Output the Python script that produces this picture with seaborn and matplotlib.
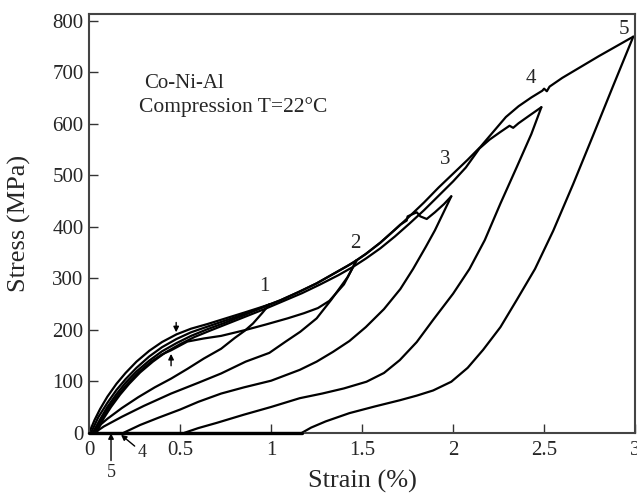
import pandas as pd
import matplotlib
matplotlib.use("Agg")
import matplotlib.pyplot as plt
import seaborn as sns

# loading / unloading branches (strain %, stress MPa)
load1_strain = [0, 0.03, 0.06, 0.10, 0.15, 0.20, 0.26, 0.33, 0.40, 0.48, 0.56, 0.65, 0.75, 0.85, 0.93, 0.99]
load1_stress = [0, 25, 46, 70, 95, 116, 138, 159, 176, 191, 202, 211, 222, 233, 242, 249]

load2_strain = [0.02, 0.06, 0.10, 0.15, 0.20, 0.26, 0.33, 0.40, 0.48, 0.56, 0.65, 0.75, 0.85, 0.93, 0.99,
                1.05, 1.15, 1.25, 1.35, 1.42, 1.47]
load2_stress = [0, 26, 50, 75, 97, 119, 140, 158, 174, 188, 201, 214, 228, 240, 249,
                257, 273, 290, 310, 324, 335]

load3_strain = [0.03, 0.07, 0.11, 0.16, 0.21, 0.27, 0.34, 0.40, 0.45, 0.54, 0.63, 0.725, 0.854, 0.97,
                1.09, 1.18, 1.257, 1.32, 1.40, 1.47, 1.52, 1.60, 1.66, 1.71, 1.745, 1.75, 1.80, 1.82,
                1.855, 1.90, 1.95, 1.99]
load3_stress = [0, 28, 50, 74, 95, 117, 138, 152, 160, 177, 183, 188, 199, 210,
                222, 232, 242, 256, 288, 335, 347, 369, 388, 404, 412, 420, 428, 420,
                415, 428, 444, 459]

load4_strain = [0.04, 0.08, 0.12, 0.17, 0.22, 0.28, 0.35, 0.42, 0.50, 0.58, 0.67, 0.77, 0.87, 0.97,
                1.07, 1.17, 1.27, 1.37, 1.45, 1.52, 1.60, 1.68, 1.76, 1.84, 1.92, 2.00, 2.07,
                2.145, 2.20, 2.26, 2.31, 2.33, 2.36, 2.42, 2.485]
load4_stress = [0, 28, 50, 74, 95, 117, 138, 156, 172, 186, 199, 213, 227, 241,
                256, 271, 288, 306, 322, 338, 358, 381, 406, 432, 460, 488, 515,
                552, 569, 584, 596, 592, 601, 616, 632]

load5_strain = [0.01, 0.05, 0.10, 0.15, 0.20, 0.26, 0.33, 0.40, 0.48, 0.56, 0.65, 0.75, 0.85, 0.95,
                1.05, 1.15, 1.25, 1.35, 1.45, 1.52, 1.60, 1.68, 1.76, 1.84, 1.92, 2.00, 2.08,
                2.15, 2.22, 2.29, 2.36, 2.43, 2.49, 2.50, 2.515, 2.53, 2.60, 2.70, 2.80, 2.90, 2.99]
load5_stress = [0, 30, 58, 83, 104, 126, 148, 166, 182, 195, 206, 218, 230, 243,
                257, 273, 290, 310, 330, 347, 369, 394, 420, 447, 476, 503, 530,
                555, 584, 613, 634, 651, 664, 668, 663, 672, 689, 710, 731, 751, 769]

unload1_strain = [0.99, 0.95, 0.90, 0.855, 0.80, 0.725, 0.63, 0.54, 0.45, 0.36, 0.27, 0.18, 0.10, 0.05, 0.02]
unload1_stress = [249, 232, 212, 198, 184, 163, 144, 124, 105, 88, 69, 48, 27, 12, 0]

unload2_strain = [1.47, 1.42, 1.33, 1.25, 1.16, 1.08, 0.99, 0.86, 0.725, 0.60, 0.45, 0.30, 0.18, 0.08, 0.03]
unload2_stress = [335, 302, 258, 222, 196, 177, 155, 138, 115, 97, 76, 52, 31, 12, 0]

unload3_strain = [1.99, 1.945, 1.90, 1.85, 1.78, 1.71, 1.62, 1.52, 1.43, 1.34, 1.25, 1.157, 1.0,
                  0.85, 0.725, 0.60, 0.50, 0.38, 0.28, 0.19]
unload3_stress = [459, 426, 393, 361, 318, 279, 240, 205, 178, 157, 138, 122, 101,
                  88, 76, 60, 45, 29, 15, 0]

unload4_strain = [2.485, 2.43, 2.35, 2.26, 2.174, 2.09, 2.0, 1.89, 1.80, 1.707, 1.62, 1.524, 1.40,
                  1.28, 1.157, 1.0, 0.85, 0.70, 0.60, 0.525]
unload4_stress = [632, 580, 516, 445, 374, 318, 270, 219, 176, 141, 116, 99, 86,
                  76, 67, 50, 35, 19, 9, 0]

unload5_strain = [2.99, 2.88, 2.77, 2.66, 2.55, 2.45, 2.35, 2.26, 2.165, 2.08, 1.99, 1.89, 1.80,
                  1.707, 1.57, 1.43, 1.30, 1.22, 1.17]
unload5_stress = [769, 674, 578, 483, 392, 318, 258, 205, 161, 126, 99, 82, 72,
                  63, 51, 38, 22, 10, 0]

base_strain = [0.0, 1.17]
base_stress = [0, 0]

curves = {
    'load1': (load1_strain, load1_stress),
    'load2': (load2_strain, load2_stress),
    'load3': (load3_strain, load3_stress),
    'load4': (load4_strain, load4_stress),
    'load5': (load5_strain, load5_stress),
    'unload1': (unload1_strain, unload1_stress),
    'unload2': (unload2_strain, unload2_stress),
    'unload3': (unload3_strain, unload3_stress),
    'unload4': (unload4_strain, unload4_stress),
    'unload5': (unload5_strain, unload5_stress),
}

# cycle numbers written at each peak
cycle_labels = ['1', '2', '3', '4', '5']
cycle_label_x = [0.965, 1.46, 1.954, 2.43, 2.94]
cycle_label_y = [283, 368, 530, 688, 782]

x_ticks = [0, 0.5, 1, 1.5, 2, 2.5, 3]
x_ticklabels = ['0', '0.5', '1', '1.5', '2', '2.5', '3']
y_ticks = [0, 100, 200, 300, 400, 500, 600, 700, 800]

df = pd.concat(
    [pd.DataFrame({'strain': s, 'stress': t, 'curve': name}) for name, (s, t) in curves.items()],
    ignore_index=True,
)

sns.set_style('ticks')
plt.rcParams['font.family'] = ['Liberation Serif', 'DejaVu Serif']

fig = plt.figure(figsize=(6.37, 4.93), dpi=100)
ax = fig.add_axes([0.140, 0.1223, 0.857, 0.8493])

sns.lineplot(
    data=df, x='strain', y='stress', units='curve', estimator=None, sort=False,
    color='black', linewidth=1.6, ax=ax, legend=False,
)
ax.plot(base_strain, base_stress, color='black', linewidth=2.4, clip_on=False, zorder=5)

ax.set_xlim(0, 3)
ax.set_ylim(0, 813)
ax.set_xticks(x_ticks)
ax.set_xticklabels(x_ticklabels)
ax.set_yticks(y_ticks)
ax.tick_params(direction='in', length=6.5, width=1.0, labelsize=15, color='#333333',
               top=False, right=False)
ax.tick_params(axis='x', pad=6)
ax.tick_params(axis='y', pad=4)
for sp in ax.spines.values():
    sp.set_color('#444444')
    sp.set_linewidth(1.5)

ax.set_xlabel('Strain (%)', fontsize=19)
ax.set_ylabel('Stress (MPa)', fontsize=19)
ax.xaxis.set_label_coords(0.5, -0.088)
ax.yaxis.set_label_coords(-0.106, 0.5)

for lab, lx, ly in zip(cycle_labels, cycle_label_x, cycle_label_y):
    ax.text(lx, ly, lab, fontsize=15, ha='center', va='center')

ax.text(0.30, 679, 'Co-Ni-Al', fontsize=15, ha='left', va='center')
ax.text(0.274, 632, 'Compression T=22°C', fontsize=15.5, ha='left', va='center')

# small arrows on the curves and residual-strain markers under the axis
arrow = dict(arrowstyle='-|>', color='black', lw=1.0, mutation_scale=8, shrinkA=0, shrinkB=0)
ax.annotate('', xy=(0.478, 195), xytext=(0.478, 214), arrowprops=arrow)
ax.annotate('', xy=(0.45, 153), xytext=(0.45, 130), arrowprops=arrow)
ax.annotate('', xy=(0.12, -1), xytext=(0.12, -54), arrowprops=arrow, annotation_clip=False)
ax.annotate('', xy=(0.175, -4), xytext=(0.25, -26), arrowprops=arrow, annotation_clip=False)
ax.text(0.12, -78, '5', fontsize=13, ha='center', va='center', clip_on=False)
ax.text(0.29, -38, '4', fontsize=13, ha='center', va='center', clip_on=False)

fig.savefig('out.png', dpi=100)
plt.close(fig)
